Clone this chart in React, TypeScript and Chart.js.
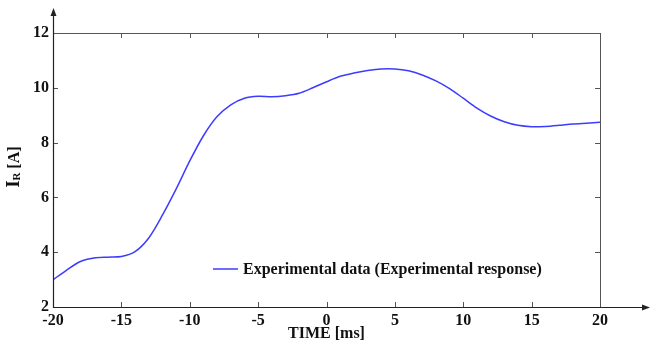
import { useEffect, useRef } from "react";
import { Chart, registerables } from "chart.js";

Chart.register(...registerables);

const timeMs = [-20, -19, -18, -17, -16, -15, -14, -13, -12, -11, -10, -9, -8, -7, -6, -5, -4, -3, -2, -1, 0, 1, 2, 3, 4, 5, 6, 7, 8, 9, 10, 11, 12, 13, 14, 15, 16, 17, 18, 19, 20];
const currentA = [2.99, 3.35, 3.66, 3.79, 3.82, 3.84, 4.02, 4.52, 5.35, 6.3, 7.33, 8.25, 8.95, 9.38, 9.62, 9.69, 9.67, 9.71, 9.8, 10.0, 10.22, 10.42, 10.54, 10.63, 10.69, 10.69, 10.62, 10.47, 10.25, 9.97, 9.62, 9.26, 8.97, 8.76, 8.63, 8.58, 8.59, 8.63, 8.68, 8.71, 8.74];
const xTicks = [-20, -15, -10, -5, 0, 5, 10, 15, 20];
const yTicks = [2, 4, 6, 8, 10, 12];
const seriesLabel = "Experimental data (Experimental response)";
const xTitle = "TIME [ms]";
const yTitleMain = "I";
const yTitleSub = "R";
const yTitleUnit = "[A]";

const FONT = "'Liberation Serif', 'Times New Roman', serif";
const LINE_COLOR = "#3c3cff";

const decorPlugin = {
  id: "decor",
  afterDraw(chart: any) {
    const { ctx, chartArea, scales } = chart;
    const { left, right, top, bottom } = chartArea;
    const xs = scales.x;
    const ys = scales.y;
    ctx.save();
    // frame top/right
    ctx.lineWidth = 1;
    ctx.strokeStyle = "#555";
    ctx.beginPath();
    ctx.moveTo(left, top + 0.5);
    ctx.lineTo(right + 0.5, top + 0.5);
    ctx.lineTo(right + 0.5, bottom);
    ctx.stroke();
    // inward ticks
    const tl = 5;
    ctx.beginPath();
    for (const v of yTicks) {
      const py = Math.round(ys.getPixelForValue(v)) + 0.5;
      ctx.moveTo(left, py);
      ctx.lineTo(left + tl, py);
      ctx.moveTo(right, py);
      ctx.lineTo(right - tl, py);
    }
    for (const v of xTicks) {
      const px = Math.round(xs.getPixelForValue(v)) + 0.5;
      ctx.moveTo(px, bottom);
      ctx.lineTo(px, bottom - tl);
      ctx.moveTo(px, top);
      ctx.lineTo(px, top + tl);
    }
    ctx.stroke();
    // main axes with arrows
    ctx.strokeStyle = "#222";
    ctx.fillStyle = "#222";
    ctx.lineWidth = 1.2;
    ctx.beginPath();
    ctx.moveTo(left + 0.5, 14);
    ctx.lineTo(left + 0.5, bottom + 0.5);
    ctx.lineTo(644, bottom + 0.5);
    ctx.stroke();
    ctx.beginPath();
    ctx.moveTo(left + 0.5, 8);
    ctx.lineTo(left - 2.5, 16);
    ctx.lineTo(left + 3.5, 16);
    ctx.closePath();
    ctx.fill();
    ctx.beginPath();
    ctx.moveTo(650, bottom + 0.5);
    ctx.lineTo(642, bottom - 2.5);
    ctx.lineTo(642, bottom + 3.5);
    ctx.closePath();
    ctx.fill();

    // legend
    const ly = bottom - 38;
    const lx = left + 160;
    ctx.strokeStyle = LINE_COLOR;
    ctx.lineWidth = 1.5;
    ctx.beginPath();
    ctx.moveTo(lx, ly);
    ctx.lineTo(lx + 25, ly);
    ctx.stroke();
    ctx.fillStyle = "#111";
    ctx.font = `bold 16px ${FONT}`;
    ctx.textBaseline = "middle";
    ctx.textAlign = "left";
    ctx.fillText(chart.data.datasets[0].label, lx + 30, ly + 0.5);

    // x title
    ctx.textAlign = "center";
    ctx.font = `bold 16px ${FONT}`;
    ctx.fillText(xTitle, (left + right) / 2, 334);

    // y title with subscript
    ctx.translate(19, 167);
    ctx.rotate(-Math.PI / 2);
    ctx.textBaseline = "alphabetic";
    ctx.textAlign = "left";
    ctx.font = `bold 18px ${FONT}`;
    const wI = ctx.measureText(yTitleMain).width;
    ctx.font = `bold 11px ${FONT}`;
    const wR = ctx.measureText(yTitleSub).width;
    ctx.font = `bold 16px ${FONT}`;
    const wU = ctx.measureText(" " + yTitleUnit).width;
    const total = wI + wR + wU;
    let cx = -total / 2;
    ctx.font = `bold 18px ${FONT}`;
    ctx.fillText(yTitleMain, cx, 0);
    cx += wI;
    ctx.font = `bold 11px ${FONT}`;
    ctx.fillText(yTitleSub, cx, 1);
    cx += wR;
    ctx.font = `bold 16px ${FONT}`;
    ctx.fillText(" " + yTitleUnit, cx, 0);
    ctx.restore();
  },
};

export default function App() {
  const ref = useRef<HTMLCanvasElement>(null);
  useEffect(() => {
    const chart = new Chart(ref.current!, {
      type: "line",
      data: {
        datasets: [
          {
            label: seriesLabel,
            data: timeMs.map((t, i) => ({ x: t, y: currentA[i] })),
            borderColor: LINE_COLOR,
            backgroundColor: LINE_COLOR,
            borderWidth: 1.5,
            pointRadius: 0,
            tension: 0.3,
            fill: false,
          },
        ],
      },
      options: {
        responsive: false,
        animation: false,
        layout: { padding: { left: 0, top: 33, right: 51, bottom: 0 } },
        plugins: { legend: { display: false }, tooltip: { enabled: false } },
        scales: {
          x: {
            type: "linear",
            min: -20,
            max: 20,
            grid: { display: false, drawTicks: false },
            border: { display: false },
            afterBuildTicks: (s: any) => {
              s.ticks = xTicks.map((v) => ({ value: v }));
            },
            afterFit: (s: any) => {
              s.height = 38;
            },
            ticks: {
              padding: 4,
              maxRotation: 0,
              autoSkip: false,
              color: "#111",
              font: { family: FONT, size: 16, weight: "bold" },
            },
          },
          y: {
            type: "linear",
            min: 2,
            max: 12,
            grid: { display: false, drawTicks: false },
            border: { display: false },
            afterBuildTicks: (s: any) => {
              s.ticks = yTicks.map((v) => ({ value: v }));
            },
            afterFit: (s: any) => {
              s.width = 53;
            },
            ticks: {
              padding: 4,
              autoSkip: false,
              color: "#111",
              font: { family: FONT, size: 16, weight: "bold" },
            },
          },
        },
      },
      plugins: [decorPlugin],
    } as any);
    return () => chart.destroy();
  }, []);
  return (
    <div style={{ position: "absolute", left: 0, top: 0, width: 651, height: 345, background: "#fff" }}>
      <canvas ref={ref} width={651} height={345} style={{ display: "block" }} />
    </div>
  );
}
